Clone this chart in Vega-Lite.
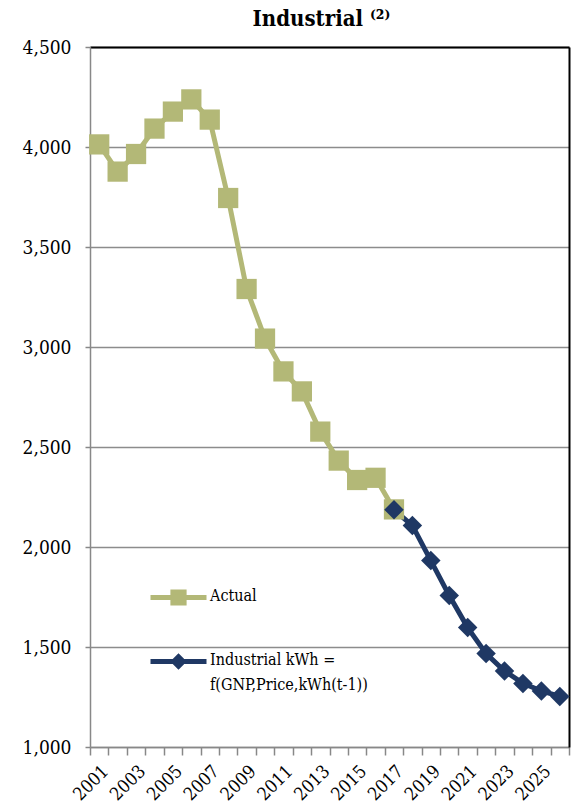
{
  "$schema": "https://vega.github.io/schema/vega-lite/v6.json",
  "width": 479,
  "height": 700,
  "autosize": {"type": "none"},
  "padding": {"left": 90, "top": 47, "right": 2, "bottom": 60},
  "background": "white",
  "config": {
    "view": {"stroke": null},
    "font": "DejaVu Serif"
  },
  "title": {
    "text": "Industrial ⁽²⁾",
    "font": "DejaVu Serif Condensed",
    "fontSize": 22,
    "fontWeight": "bold",
    "color": "#000",
    "anchor": "middle",
    "dx": -8,
    "offset": 7
  },
  "data": {
    "values": [
      {"year": 2001, "value": 4013, "series": "Actual"},
      {"year": 2002, "value": 3877, "series": "Actual"},
      {"year": 2003, "value": 3965, "series": "Actual"},
      {"year": 2004, "value": 4092, "series": "Actual"},
      {"year": 2005, "value": 4177, "series": "Actual"},
      {"year": 2006, "value": 4238, "series": "Actual"},
      {"year": 2007, "value": 4137, "series": "Actual"},
      {"year": 2008, "value": 3745, "series": "Actual"},
      {"year": 2009, "value": 3290, "series": "Actual"},
      {"year": 2010, "value": 3042, "series": "Actual"},
      {"year": 2011, "value": 2878, "series": "Actual"},
      {"year": 2012, "value": 2778, "series": "Actual"},
      {"year": 2013, "value": 2577, "series": "Actual"},
      {"year": 2014, "value": 2432, "series": "Actual"},
      {"year": 2015, "value": 2335, "series": "Actual"},
      {"year": 2016, "value": 2346, "series": "Actual"},
      {"year": 2017, "value": 2188, "series": "Actual"},
      {"year": 2017, "value": 2186, "series": "Forecast"},
      {"year": 2018, "value": 2107, "series": "Forecast"},
      {"year": 2019, "value": 1932, "series": "Forecast"},
      {"year": 2020, "value": 1757, "series": "Forecast"},
      {"year": 2021, "value": 1597, "series": "Forecast"},
      {"year": 2022, "value": 1467, "series": "Forecast"},
      {"year": 2023, "value": 1380, "series": "Forecast"},
      {"year": 2024, "value": 1318, "series": "Forecast"},
      {"year": 2025, "value": 1280, "series": "Forecast"},
      {"year": 2026, "value": 1253, "series": "Forecast"}
    ]
  },
  "encoding": {
    "x": {
      "field": "year",
      "type": "ordinal",
      "scale": {"type": "band", "paddingInner": 0, "paddingOuter": 0}
    },
    "y": {
      "field": "value",
      "type": "quantitative",
      "scale": {"domain": [1000, 4500], "nice": false, "zero": false}
    },
    "color": {
      "field": "series",
      "type": "nominal",
      "scale": {"domain": ["Actual", "Forecast"], "range": ["#B3B877", "#1F3864"]},
      "legend": {
        "title": null,
        "orient": "none",
        "legendX": 58,
        "legendY": 520,
        "symbolType": "M-1,0H1M-0.2,-0.2H0.2V0.2H-0.2Z",
        "symbolSize": 3136,
        "symbolStrokeWidth": 5,
        "rowPadding": 17,
        "labelOffset": 1,
        "labelFont": "DejaVu Serif Condensed",
        "labelFontSize": 16,
        "labelColor": "#000",
        "labelLimit": 400,
        "labelExpr": "datum.value == 'Actual' ? 'Actual' : ['Industrial kWh =', 'f(GNP,Price,kWh(t-1))']",
        "encode": {
          "symbols": {
            "update": {
              "shape": {"signal": "datum.value == 'Actual' ? 'M-1,0H1M-0.2,-0.2H0.2V0.2H-0.2Z' : 'M-1,0H1M0,-0.17L0.17,0L0,0.17L-0.17,0Z'"},
              "fill": {"signal": "datum.value == 'Actual' ? '#B3B877' : '#1F3864'"},
              "stroke": {"signal": "datum.value == 'Actual' ? '#B3B877' : '#1F3864'"},
              "strokeWidth": {"value": 5},
              "size": {"value": 3136},
              "opacity": {"value": 1},
              "fillOpacity": {"value": 1},
              "strokeOpacity": {"value": 1}
            }
          },
          "labels": {
            "update": {
              "baseline": {"value": "top"},
              "dy": {"value": -10},
              "lineHeight": {"value": 25}
            }
          }
        }
      }
    }
  },
  "layer": [
    {
      "mark": {"type": "line", "strokeWidth": 5},
      "encoding": {
        "x": {
          "field": "year",
          "type": "ordinal",
          "axis": {
            "orient": "bottom",
            "title": null,
            "tickBand": "extent",
            "labelAngle": -45,
            "labelFont": "DejaVu Serif Condensed",
            "labelFontSize": 18,
            "labelColor": "#000",
            "labelPadding": 7,
            "labelExpr": "datum.value % 2 == 1 ? datum.label : ''",
            "domainColor": "#888888",
            "domainWidth": 1.5,
            "tickColor": "#888888",
            "tickWidth": 1.5,
            "tickSize": 8,
            "grid": false
          }
        },
        "y": {
          "field": "value",
          "type": "quantitative",
          "axis": {
            "orient": "left",
            "title": null,
            "values": [1000, 1500, 2000, 2500, 3000, 3500, 4000, 4500],
            "labelExpr": "floor(datum.value / 1000) + ',' + (datum.value % 1000 == 0 ? '000' : '' + (datum.value % 1000))",
            "labelFont": "DejaVu Serif Condensed",
            "labelFontSize": 19,
            "labelColor": "#000",
            "labelPadding": 14,
            "domainColor": "#888888",
            "domainWidth": 1.5,
            "tickColor": "#888888",
            "tickWidth": 1.5,
            "tickSize": 5,
            "grid": true,
            "gridColor": "#8c8c8c",
            "gridWidth": 1.5
          }
        }
      }
    },
    {
      "mark": {"type": "point", "filled": true, "opacity": 1},
      "encoding": {
        "x": {
          "field": "year",
          "type": "ordinal",
          "axis": {"orient": "top", "title": null, "labels": false, "ticks": false, "grid": false, "domainColor": "#000", "domainWidth": 2}
        },
        "y": {
          "field": "value",
          "type": "quantitative",
          "axis": {"orient": "right", "title": null, "labels": false, "ticks": false, "grid": false, "domainColor": "#000", "domainWidth": 2}
        },
        "shape": {
          "condition": {"test": "datum.series == 'Actual'", "value": "square"},
          "value": "diamond"
        },
        "size": {
          "condition": {"test": "datum.series == 'Actual'", "value": 410},
          "value": 380
        }
      }
    }
  ],
  "resolve": {"axis": {"x": "independent", "y": "independent"}}
}
